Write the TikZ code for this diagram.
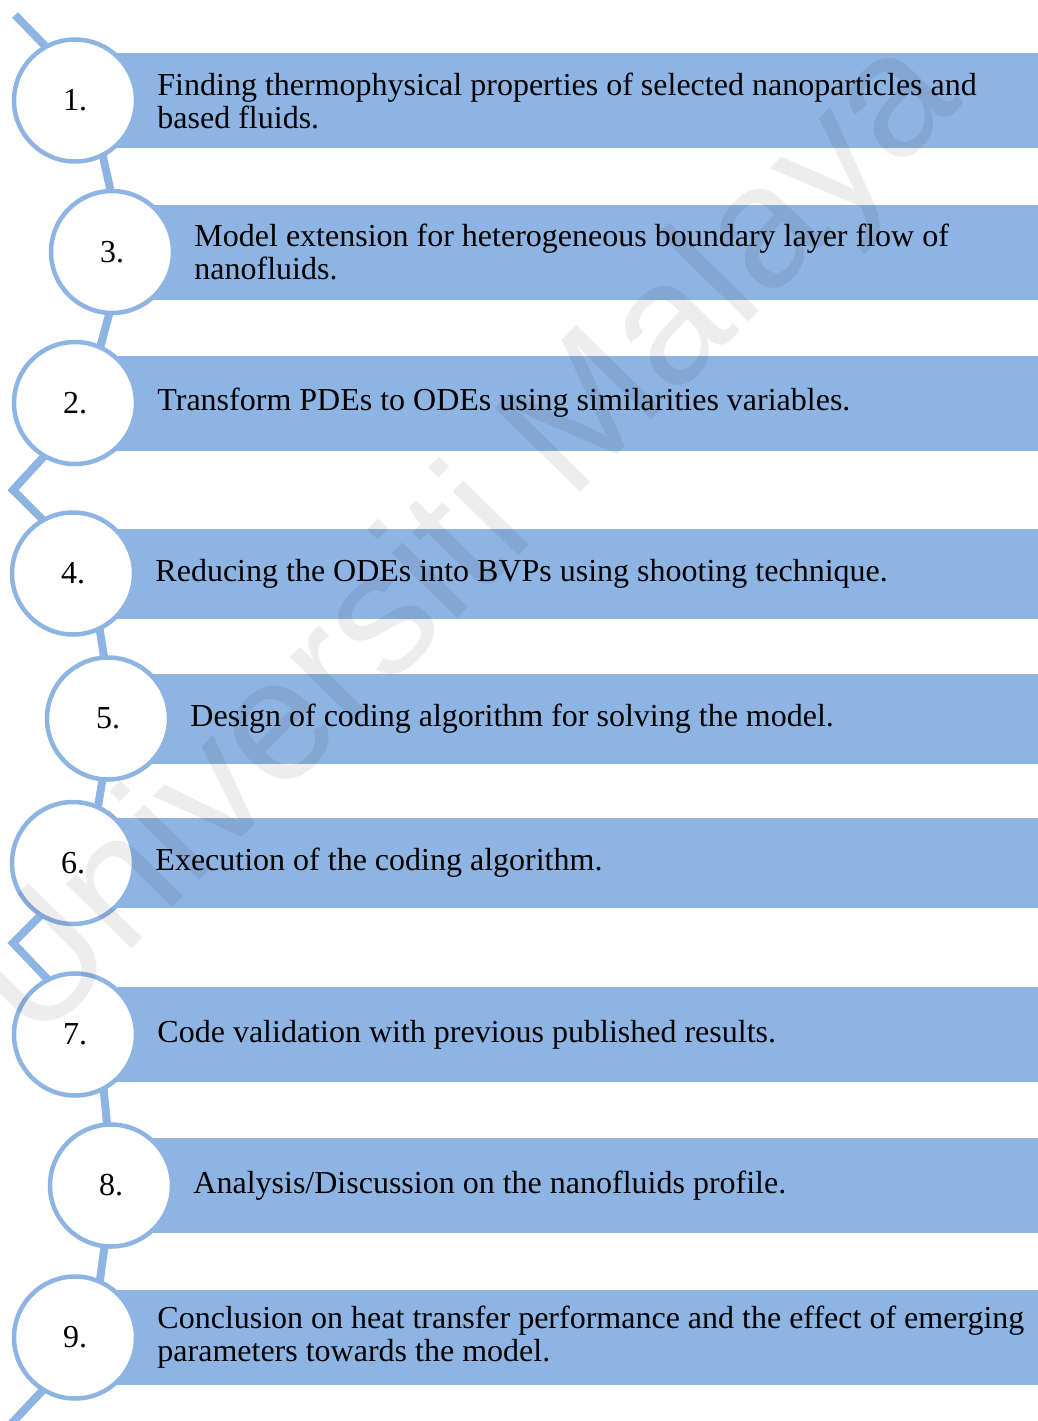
\documentclass[tikz,border=0pt]{standalone}
\usepackage{fontspec}
\setmainfont{Liberation Serif}
\newfontfamily\wmsans{Liberation Sans}
\definecolor{stepblue}{RGB}{142, 180, 227}
\usetikzlibrary{positioning}

\begin{document}
\begin{tikzpicture}[x=1pt, y=-1pt,
  bar/.style={fill=stepblue, minimum height=95, minimum width=1000, anchor=west, inner sep=0pt},
  stepcircle/.style={circle, draw=stepblue, line width=4.5, fill=white, minimum size=122, inner sep=0pt, font=\fontsize{32}{33}\selectfont},
  steptext/.style={align=left, inner sep=0pt, font=\fontsize{32}{33}\selectfont}
]
  \useasboundingbox (0,0) rectangle (1038,1421);
  \clip (0,0) rectangle (1038,1421);

  % zigzag behind the circles
  \draw[stepblue, line width=8] (15,15) -- (88,90) -- (125,255) -- (82,415) -- (13,490)
    -- (90,567) -- (113,715) -- (88,868) -- (13,943) -- (98,1032) -- (113,1185)
    -- (92,1338) -- (10,1425);

  \node[bar] (bar1) at (75,100.5) {};
  \node[bar] (bar3) at (112,252) {};
  \node[bar] (bar2) at (75,403) {};
  \node[bar, minimum height=90] (bar4) at (73,573.5) {};
  \node[bar, minimum height=90] (bar5) at (108,718.5) {};
  \node[bar, minimum height=90] (bar6) at (73,863) {};
  \node[bar] (bar7) at (75,1034.5) {};
  \node[bar] (bar8) at (111,1185.5) {};
  \node[bar] (bar9) at (75,1337.5) {};

  \node[stepcircle] (s1) at (75,100.5) {1.};
  \node[stepcircle] (s3) at (112,252) {3.};
  \node[stepcircle] (s2) at (75,403) {2.};
  \node[stepcircle] (s4) at (73,573.5) {4.};
  \node[stepcircle] (s5) at (108,718.5) {5.};
  \node[stepcircle] (s6) at (73,863) {6.};
  \node[stepcircle] (s7) at (75,1034.5) {7.};
  \node[stepcircle] (s8) at (111,1185.5) {8.};
  \node[stepcircle] (s9) at (75,1337.5) {9.};

  \node[steptext, right=19pt of s1] (t1) {Finding thermophysical properties of selected nanoparticles and\\based fluids.};
  \node[steptext, right=19pt of s3] (t3) {Model extension for heterogeneous boundary layer flow of\\nanofluids.};
  \node[steptext, right=19pt of s2] (t2) {Transform PDEs to ODEs using similarities variables.};
  \node[steptext, right=19pt of s4] (t4) {Reducing the ODEs into BVPs using shooting technique.};
  \node[steptext, right=19pt of s5] (t5) {Design of coding algorithm for solving the model.};
  \node[steptext, right=19pt of s6] (t6) {Execution of the coding algorithm.};
  \node[steptext, right=19pt of s7] (t7) {Code validation with previous published results.};
  \node[steptext, right=19pt of s8] (t8) {Analysis/Discussion on the nanofluids profile.};
  \node[steptext, right=19pt of s9] (t9) {Conclusion on heat transfer performance and the effect of emerging\\parameters towards the model.};

  % watermark
  \node[font=\wmsans\fontsize{174}{174}\selectfont, text=black, text opacity=0.07, rotate=45.5, anchor=base] (wm) at (500,575) {Universiti Malaya};
\end{tikzpicture}
\end{document}
